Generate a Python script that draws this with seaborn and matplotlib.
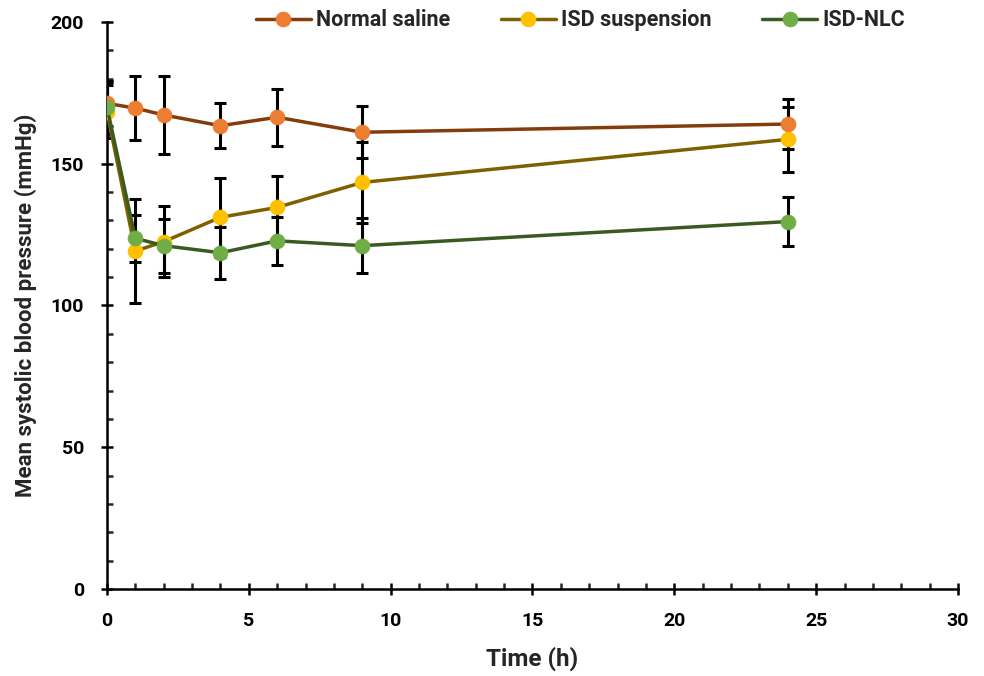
import numpy as np
import pandas as pd
import matplotlib
matplotlib.use('Agg')
import matplotlib.pyplot as plt
import seaborn as sns
from matplotlib.ticker import MultipleLocator

# data
time_h = [0, 1, 2, 4, 6, 9, 24]

saline_mean = [171.3, 169.6, 167.2, 163.4, 166.4, 161.1, 164.0]
saline_err = [8.0, 11.3, 13.8, 8.0, 10.0, 9.2, 8.9]

susp_mean = [168.4, 119.2, 122.5, 131.1, 134.6, 143.4, 158.6]
susp_err = [9.5, 18.5, 12.5, 14.0, 10.9, 14.4, 11.5]

nlc_mean = [170.0, 123.7, 121.1, 118.6, 122.8, 121.1, 129.6]
nlc_err = [9.0, 8.2, 9.5, 9.1, 8.4, 9.8, 8.7]

series = [
    ('Normal saline', saline_mean, saline_err, '#843C0C', '#ED7D31'),
    ('ISD suspension', susp_mean, susp_err, '#7F6000', '#FFC000'),
    ('ISD-NLC', nlc_mean, nlc_err, '#3A5A22', '#70AD47'),
]

sns.set_theme(style='ticks')
plt.rcParams['font.family'] = ['Roboto', 'DejaVu Sans']
plt.rcParams['font.weight'] = 'bold'

fig = plt.figure(figsize=(9.84, 6.76), dpi=100)
ax = fig.add_axes([0.1087, 0.1287, 0.8649, 0.8388])

for i, (name, mean, err, line_c, mark_c) in enumerate(series):
    df = pd.DataFrame({'t': time_h, 'bp': mean})
    ax.errorbar(time_h, mean, yerr=err, fmt='none', ecolor='black',
                elinewidth=2.2, capsize=4.3, capthick=2.2, zorder=2)
    sns.lineplot(data=df, x='t', y='bp', ax=ax, color=line_c, linewidth=2.5,
                 marker='o', markersize=10.5, markerfacecolor=mark_c,
                 markeredgecolor=mark_c, label=name, zorder=3 + i)

ax.set_xlim(0, 30)
ax.set_ylim(0, 200)
ax.xaxis.set_major_locator(MultipleLocator(5))
ax.xaxis.set_minor_locator(MultipleLocator(1))
ax.yaxis.set_major_locator(MultipleLocator(50))
ax.yaxis.set_minor_locator(MultipleLocator(10))
ax.tick_params(which='major', direction='inout', length=9, width=1.8,
               labelsize=14, colors='black', pad=12)
ax.tick_params(which='minor', direction='in', length=4, width=1.8)
for lab in ax.get_xticklabels() + ax.get_yticklabels():
    lab.set_fontweight('bold')

for side in ['top', 'right']:
    ax.spines[side].set_visible(False)
for side in ['left', 'bottom']:
    ax.spines[side].set_linewidth(1.8)
    ax.spines[side].set_color('black')

ax.set_xlabel('Time (h)', fontsize=17.5, fontweight='bold', labelpad=12)
ax.set_ylabel('Mean systolic blood pressure (mmHg)', fontsize=16,
              fontweight='bold', labelpad=10)

leg = ax.legend(loc='center', bbox_to_anchor=(0.590, 0.970),
                bbox_transform=fig.transFigure, ncol=3, frameon=False,
                handlelength=2.55, columnspacing=2.35, handletextpad=0.25,
                prop={'weight': 'bold', 'size': 15.5})

fig.savefig('out.png', dpi=100)
